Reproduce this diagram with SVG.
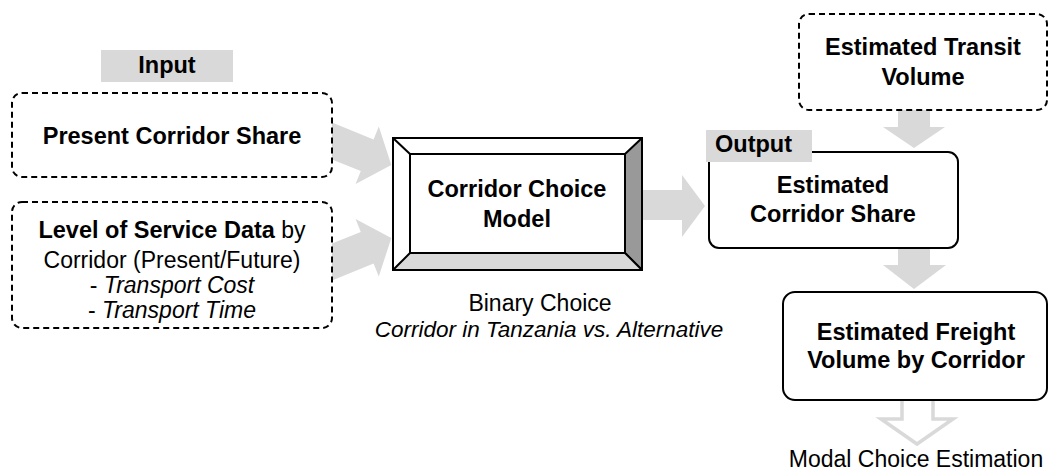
<svg xmlns="http://www.w3.org/2000/svg" width="1052" height="470" viewBox="0 0 1052 470">
<style>
text{font-family:"Liberation Sans",Arial,sans-serif;fill:#000}
.b{font-weight:bold;font-size:23.5px}
.r{font-size:23px}
.i{font-size:22.5px;font-style:italic}
.dash{fill:#fff;stroke:#000;stroke-width:2;stroke-dasharray:6 4}
.solid{fill:#fff;stroke:#000;stroke-width:2}
.arr{fill:#d9d9d9;stroke:none}
.tag{fill:#d9d9d9}
</style>
<rect width="1052" height="470" fill="#fff"/>
<g id="connectors">
<polygon class="arr" points="332,122.6 373.6,139.4 378.8,126.5 391.3,165 355.6,183.9 360.8,171 332,159.4"/>
<polygon class="arr" points="332,280.4 373.6,263.6 378.8,276.5 391.3,238 355.6,219.1 360.8,232 332,243.6"/>
<polygon class="arr" points="643,190 682,190 682,175 705,206 682,237 682,220 643,220"/>
<polygon class="arr" points="898,110 930,110 930,127 945,127 914,148 883,127 898,127"/>
<polygon class="arr" points="898,248 930,248 930,265 946,265 914,289 883,265 898,265"/>
<path d="M902,401 V419 H881 L917,444 L953,419 H933 V401" fill="#fff" stroke="#d9d9d9" stroke-width="3.5" stroke-linejoin="miter"/>
</g>
<g id="input-label">
<rect class="tag" x="101" y="50" width="132" height="32"/>
<text class="b" x="167" y="73" text-anchor="middle">Input</text>
</g>
<g id="present-share">
<rect class="dash" x="12" y="93" width="320" height="84" rx="10"/>
<text class="b" x="172" y="144" text-anchor="middle">Present Corridor Share</text>
</g>
<g id="los-data">
<rect class="dash" x="12" y="202" width="320" height="126" rx="10"/>
<text x="172" y="238" text-anchor="middle" class="r"><tspan font-weight="bold" font-size="23.5">Level of Service Data</tspan> by</text>
<text class="r" x="172" y="268" text-anchor="middle">Corridor (Present/Future)</text>
<text class="r" x="172" y="293" text-anchor="middle">- <tspan font-style="italic">Transport Cost</tspan></text>
<text class="r" x="172" y="318" text-anchor="middle">- <tspan font-style="italic">Transport Time</tspan></text>
</g>
<g id="choice-model">
<rect x="393" y="138" width="249" height="132" fill="#fff" stroke="#000" stroke-width="2"/>
<polygon points="625,154 642,138 642,270 625,253" fill="#999" stroke="#000" stroke-width="2" stroke-linejoin="round"/>
<polygon points="410,253 625,253 642,270 393,270" fill="#d9d9d9" stroke="#000" stroke-width="2" stroke-linejoin="round"/>
<line x1="393" y1="138" x2="410" y2="154" stroke="#000" stroke-width="2"/>
<rect x="410" y="154" width="215" height="99" fill="#fff" stroke="#000" stroke-width="2"/>
<text class="b" x="517" y="197" text-anchor="middle">Corridor Choice</text>
<text class="b" x="517" y="227" text-anchor="middle">Model</text>
<text class="r" x="540" y="311" text-anchor="middle">Binary Choice</text>
<text class="i" x="549" y="337" text-anchor="middle">Corridor in Tanzania vs. Alternative</text>
</g>
<g id="transit-volume">
<rect class="dash" x="799" y="14" width="248" height="96" rx="10"/>
<text class="b" x="923" y="55" text-anchor="middle">Estimated Transit</text>
<text class="b" x="923" y="85" text-anchor="middle">Volume</text>
</g>
<g id="corridor-share">
<rect class="solid" x="709" y="152" width="249" height="96" rx="10"/>
<rect class="tag" x="706" y="130" width="106" height="32"/>
<text class="b" x="715" y="152">Output</text>
<text class="b" x="833" y="193" text-anchor="middle">Estimated</text>
<text class="b" x="833" y="222" text-anchor="middle">Corridor Share</text>
</g>
<g id="freight-volume">
<rect class="solid" x="783" y="292" width="264" height="108" rx="12"/>
<text class="b" x="916" y="340" text-anchor="middle">Estimated Freight</text>
<text class="b" x="916" y="368" text-anchor="middle">Volume by Corridor</text>
</g>
<g id="modal-label">
<text class="r" x="916" y="467" text-anchor="middle">Modal Choice Estimation</text>
</g>
</svg>
